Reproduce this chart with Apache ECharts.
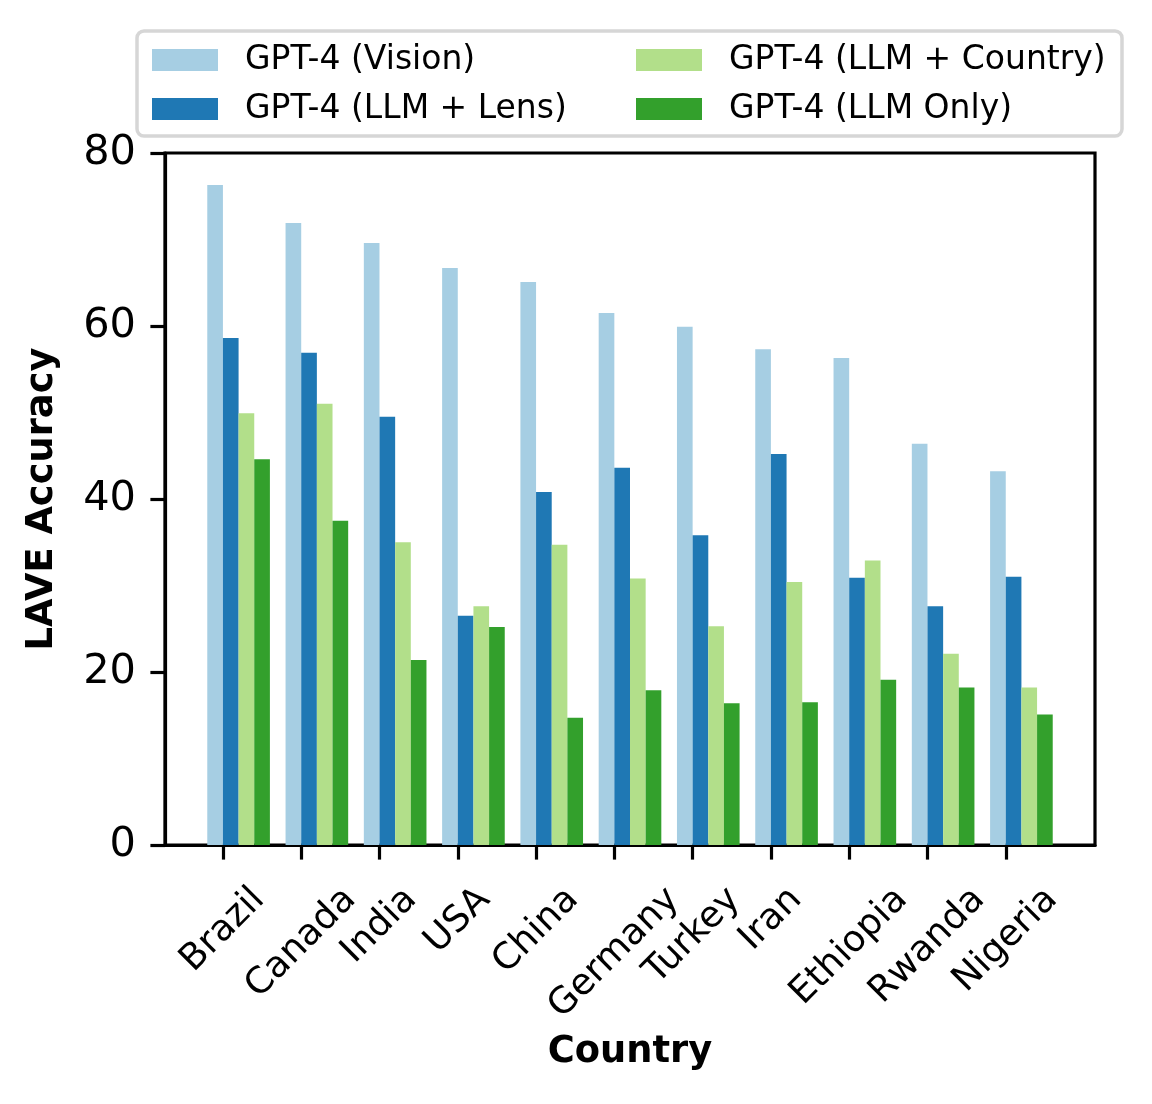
<!DOCTYPE html>
<html><head><meta charset="utf-8">
<script src="https://cdn.jsdelivr.net/npm/echarts@6/dist/echarts.min.js"></script>
<style>html,body{margin:0;padding:0;background:#fff}#c{width:1152px;height:1104px}</style>
</head><body><div id="c"></div>
<script>
const countries = ['Brazil','Canada','India','USA','China','Germany','Turkey','Iran','Ethiopia','Rwanda','Nigeria'];
const seriesNames = ['GPT-4 (Vision)','GPT-4 (LLM + Lens)','GPT-4 (LLM + Country)','GPT-4 (LLM Only)'];
const vision     = [76.3,71.9,69.6,66.7,65.1,61.5,59.9,57.3,56.3,46.4,43.2];
const llmLens    = [58.6,56.9,49.5,26.5,40.8,43.6,35.8,45.2,30.9,27.6,31.0];
const llmCountry = [49.9,51.0,35.0,27.6,34.7,30.8,25.3,30.4,32.9,22.1,18.2];
const llmOnly    = [44.6,37.5,21.4,25.2,14.7,17.9,16.4,16.5,19.1,18.2,15.1];
const yTickValues = [0,20,40,60,80];

const colors = ['#a6cee3','#1f78b4','#b2df8a','#33a02c'];
const allValues = [vision, llmLens, llmCountry, llmOnly];
const FONT = 'DejaVu Sans';
const X_FS = 36.5, X_LH = 42.5;
const groupOffset = 0.2;   // matplotlib-style group offset from tick
const catIdx = countries.map((_, i) => i);

// plot box and x range (matplotlib-like margins)
const GL = 165, GT = 153, GW = 930, GH = 692;
const XMIN = -0.74, XMAX = 11.14;
const unit = GW / (XMAX - XMIN);
const labelGridLeft = GL + (0 - XMIN) * unit - unit / 2;
const labelGridWidth = unit * countries.length;

// measure label widths to mimic matplotlib rotated, centered labels
const ctx = document.createElement('canvas').getContext('2d');
ctx.font = X_FS + 'px "' + FONT + '"';
const rich = {};
countries.forEach((c, i) => {
  const L = ctx.measureText(c).width;
  const P = (L + X_LH) / 2;
  rich['r' + i] = { fontSize: X_FS, lineHeight: X_LH, height: X_LH, color: '#000', fontFamily: FONT, padding: [P, P, 0, 0] };
});

const chart = echarts.init(document.getElementById('c'), null, { renderer: 'canvas' });
const axisLineStyle = { color: '#000', width: 3.2 };
chart.setOption({
  animation: false,
  backgroundColor: '#fff',
  textStyle: { fontFamily: FONT },
  graphic: [{
    type: 'rect', z: 1,
    shape: { x: 137, y: 31, width: 985, height: 105, r: 7 },
    style: { fill: 'rgba(255,255,255,0.8)', stroke: '#d6d6d6', lineWidth: 3.5 }
  }],
  legend: [
    { data: [seriesNames[0], seriesNames[1]], orient: 'vertical', left: 152, top: 43, padding: 0,
      itemWidth: 66, itemHeight: 22, itemGap: 15, icon: 'rect', z: 5,
      textStyle: { fontSize: 33, lineHeight: 34, color: '#000', fontFamily: FONT, padding: [0,0,0,22] } },
    { data: [seriesNames[2], seriesNames[3]], orient: 'vertical', left: 636, top: 43, padding: 0,
      itemWidth: 66, itemHeight: 22, itemGap: 15, icon: 'rect', z: 5,
      textStyle: { fontSize: 33, lineHeight: 34, color: '#000', fontFamily: FONT, padding: [0,0,0,22] } }
  ],
  grid: [
    { left: GL, top: GT, width: GW, height: GH, show: true, borderColor: '#000', borderWidth: 3.2,
      containLabel: false, outerBoundsMode: 'none' },
    { left: labelGridLeft, top: GT, width: labelGridWidth, height: GH, show: false,
      containLabel: false, outerBoundsMode: 'none' }
  ],
  xAxis: [{
    gridIndex: 0, type: 'value', min: XMIN, max: XMAX,
    name: 'Country', nameLocation: 'middle', nameGap: 189, nameMoveOverlap: false,
    nameTextStyle: { fontSize: 36.8, fontWeight: 'bold', color: '#000', fontFamily: FONT },
    axisLine: { show: true, onZero: false, lineStyle: axisLineStyle },
    axisTick: { show: false },
    splitLine: { show: false },
    axisLabel: { show: false }
  }, {
    gridIndex: 1, type: 'category', data: countries, boundaryGap: true,
    axisLine: { show: false, onZero: false },
    axisTick: { show: true, alignWithLabel: true, interval: 0, length: 14.6, inside: false, lineStyle: axisLineStyle },
    splitLine: { show: false },
    axisLabel: {
      interval: 0, rotate: 45, align: 'center', verticalAlign: 'middle', margin: 34,
      formatter: (v, i) => '{r' + i + '|' + v + '}',
      rich: rich
    }
  }],
  yAxis: [{
    gridIndex: 0, type: 'value', min: 0, max: 80, interval: 20,
    name: 'LAVE Accuracy', nameLocation: 'middle', nameGap: 104, nameMoveOverlap: false,
    nameTextStyle: { fontSize: 36.8, fontWeight: 'bold', color: '#000', fontFamily: FONT },
    axisLine: { show: true, onZero: false, lineStyle: axisLineStyle },
    axisTick: { show: true, length: 14.6, inside: false, lineStyle: axisLineStyle },
    splitLine: { show: false },
    axisLabel: { fontSize: 41.5, color: '#000', margin: 29, fontFamily: FONT,
      showMinLabel: true, showMaxLabel: true,
      customValues: yTickValues, formatter: v => String(v) }
  }, {
    gridIndex: 1, type: 'value', min: 0, max: 80, show: false
  }],
  series: seriesNames.map((name, k) => ({
    name: name, type: 'bar', barWidth: '20%', barGap: '0%',
    xAxisIndex: 0, yAxisIndex: 0,
    itemStyle: { color: colors[k] },
    data: catIdx.map(i => [i + groupOffset, allValues[k][i]])
  }))
});
</script></body></html>
